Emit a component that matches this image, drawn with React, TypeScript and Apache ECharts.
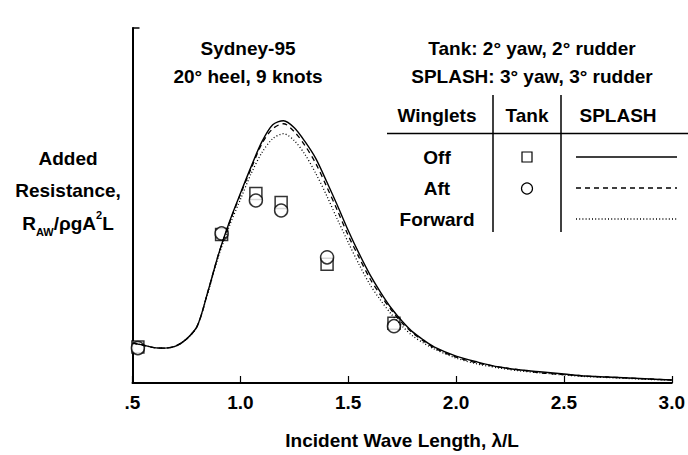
import React, { useEffect, useRef } from "react";
import * as echarts from "echarts";

// Wave length λ/L for the SPLASH curves
const waveLength = [0.5, 0.55, 0.6, 0.65, 0.7, 0.75, 0.8, 0.85, 0.9, 0.95, 1.0, 1.05, 1.1, 1.15, 1.2, 1.25, 1.3, 1.35, 1.4, 1.45, 1.5, 1.55, 1.6, 1.65, 1.7, 1.75, 1.8, 1.85, 1.9, 2.0, 2.1, 2.2, 2.3, 2.4, 2.5, 2.6, 2.7, 2.8, 2.9, 3.0];
// SPLASH: winglets off (solid)
const splashOff = [0.4, 0.38, 0.355, 0.35, 0.37, 0.44, 0.57, 0.92, 1.3, 1.62, 1.9, 2.17, 2.42, 2.59, 2.63, 2.56, 2.42, 2.25, 2.02, 1.78, 1.53, 1.3, 1.09, 0.91, 0.75, 0.62, 0.51, 0.43, 0.36, 0.27, 0.21, 0.16, 0.13, 0.11, 0.09, 0.07, 0.06, 0.05, 0.04, 0.03];
// SPLASH: winglets aft (dashed)
const splashAft = [0.4, 0.38, 0.355, 0.35, 0.37, 0.44, 0.57, 0.92, 1.3, 1.61, 1.89, 2.15, 2.4, 2.55, 2.6, 2.52, 2.38, 2.2, 1.97, 1.73, 1.48, 1.26, 1.05, 0.88, 0.73, 0.6, 0.5, 0.42, 0.35, 0.26, 0.2, 0.16, 0.13, 0.1, 0.085, 0.07, 0.06, 0.05, 0.04, 0.03];
// SPLASH: winglets forward (dotted)
const splashForward = [0.4, 0.38, 0.355, 0.35, 0.37, 0.44, 0.57, 0.91, 1.28, 1.58, 1.84, 2.1, 2.31, 2.45, 2.5, 2.43, 2.29, 2.1, 1.88, 1.64, 1.41, 1.19, 0.99, 0.83, 0.69, 0.57, 0.47, 0.4, 0.34, 0.25, 0.19, 0.15, 0.12, 0.1, 0.08, 0.065, 0.055, 0.045, 0.035, 0.03];
// Tank test points
const tankWaveLength = [0.525, 0.913, 1.072, 1.189, 1.402, 1.712];
const tankOff = [0.36, 1.49, 1.9, 1.81, 1.19, 0.6];
const tankAft = [0.35, 1.5, 1.83, 1.73, 1.26, 0.57];
// x tick labels
const xTickLabels: Record<string, string> = { "0.5": ".5", "1": "1.0", "1.5": "1.5", "2": "2.0", "2.5": "2.5", "3": "3.0" };

const Y_MAX = 3.56;
const FONT = "'Liberation Sans', Arial, sans-serif";
const FS = 19;

export default function App() {
  const ref = useRef<HTMLDivElement>(null);
  useEffect(() => {
    if (!ref.current) return;
    const chart = echarts.init(ref.current, undefined, { renderer: "svg" });
    const pairs = (xs: number[], ys: number[]) => xs.map((x, i) => [x, ys[i]]);
    const txt = (text: string, x: number, y: number, extra: any = {}) => ({
      type: "text",
      x,
      y,
      style: { text, fill: "#000", font: `bold ${FS}px ${FONT}`, textAlign: "center", textVerticalAlign: "middle", ...extra },
    });
    chart.setOption({
      animation: false,
      backgroundColor: "#fff",
      textStyle: { fontFamily: FONT },
      grid: { left: 132.5, right: 15.5, top: 28, bottom: 71, containLabel: false },
      xAxis: {
        type: "value",
        min: 0.5,
        max: 3.0,
        interval: 0.5,
        axisLine: { lineStyle: { color: "#000", width: 2 } },
        axisTick: { inside: true, length: 7, lineStyle: { color: "#000", width: 1.2 } },
        splitLine: { show: false },
        axisLabel: {
          color: "#000",
          fontWeight: "bold",
          fontSize: FS,
          fontFamily: FONT,
          margin: 10,
          formatter: (v: number) => xTickLabels[String(v)] ?? String(v),
        },
        name: "Incident Wave Length, λ/L",
        nameLocation: "middle",
        nameGap: 48,
        nameTextStyle: { color: "#000", fontWeight: "bold", fontSize: FS, fontFamily: FONT },
      },
      yAxis: {
        type: "value",
        min: 0,
        max: Y_MAX,
        interval: Y_MAX,
        axisLine: { show: true, lineStyle: { color: "#000", width: 2 } },
        axisTick: { show: true, inside: true, length: 7, lineStyle: { color: "#000", width: 1.5 } },
        axisLabel: { show: false },
        splitLine: { show: false },
      },
      series: [
        {
          name: "Tank Off",
          type: "scatter",
          symbol: "rect",
          symbolSize: 12,
          data: pairs(tankWaveLength, tankOff),
          itemStyle: { color: "#fff", borderColor: "#000", borderWidth: 1.5 },
          z: 2,
        },
        {
          name: "Tank Aft",
          type: "scatter",
          symbol: "circle",
          symbolSize: 13,
          data: pairs(tankWaveLength, tankAft),
          itemStyle: { color: "#fff", borderColor: "#000", borderWidth: 1.5 },
          z: 3,
        },
        {
          name: "SPLASH Forward",
          type: "line",
          smooth: 0.3,
          showSymbol: false,
          data: pairs(waveLength, splashForward),
          lineStyle: { color: "#000", width: 1.3, type: [1, 2.2] },
          z: 4,
        },
        {
          name: "SPLASH Aft",
          type: "line",
          smooth: 0.3,
          showSymbol: false,
          data: pairs(waveLength, splashAft),
          lineStyle: { color: "#000", width: 1.3, type: [5, 4] },
          z: 5,
        },
        {
          name: "SPLASH Off",
          type: "line",
          smooth: 0.3,
          showSymbol: false,
          data: pairs(waveLength, splashOff),
          lineStyle: { color: "#000", width: 1.4, type: "solid" },
          z: 6,
        },
      ],
      graphic: [
        txt("Sydney-95", 248, 48),
        txt("20° heel, 9 knots", 248, 76),
        txt("Tank: 2° yaw, 2° rudder", 532, 48),
        txt("SPLASH: 3° yaw, 3° rudder", 532, 76),
        txt("Winglets", 437, 115),
        txt("Tank", 527, 115),
        txt("SPLASH", 618, 115),
        txt("Off", 437, 157),
        txt("Aft", 437, 188),
        txt("Forward", 437, 219),
        txt("Added", 68, 158),
        txt("Resistance,", 68, 190),
        { type: "line", shape: { x1: 493, y1: 95, x2: 493, y2: 232 }, style: { stroke: "#000", lineWidth: 1.5 } },
        { type: "line", shape: { x1: 561, y1: 95, x2: 561, y2: 232 }, style: { stroke: "#000", lineWidth: 1.5 } },
        { type: "line", shape: { x1: 387, y1: 133.5, x2: 688, y2: 133.5 }, style: { stroke: "#000", lineWidth: 1.5 } },
        { type: "rect", shape: { x: 522, y: 152, width: 10, height: 10 }, style: { fill: "#fff", stroke: "#000", lineWidth: 1.2 } },
        { type: "circle", shape: { cx: 527, cy: 188.5, r: 5.5 }, style: { fill: "#fff", stroke: "#000", lineWidth: 1.2 } },
        { type: "line", shape: { x1: 576, y1: 157, x2: 677, y2: 157 }, style: { stroke: "#000", lineWidth: 1.3 } },
        { type: "line", shape: { x1: 576, y1: 188, x2: 677, y2: 188 }, style: { stroke: "#000", lineWidth: 1.3, lineDash: [5, 4] } },
        { type: "line", shape: { x1: 576, y1: 219, x2: 677, y2: 219 }, style: { stroke: "#000", lineWidth: 1.3, lineDash: [1, 2.2] } },
        {
          type: "text",
          x: 68,
          y: 223,
          style: {
            text: "{b|R}{sub|AW}{b|/ρgA}{sup|2}{b|L}",
            fill: "#000",
            textAlign: "center",
            textVerticalAlign: "middle",
            rich: {
              b: { font: `bold ${FS}px ${FONT}`, fill: "#000", lineHeight: 28, verticalAlign: "middle" },
              sub: { font: `bold 11px ${FONT}`, fill: "#000", lineHeight: 11, verticalAlign: "bottom" },
              sup: { font: `bold 11px ${FONT}`, fill: "#000", lineHeight: 11, verticalAlign: "top" },
            },
          },
        },
      ],
    });
    return () => chart.dispose();
  }, []);
  return <div ref={ref} style={{ position: "fixed", left: 0, top: 0, width: 688, height: 455 }} />;
}
